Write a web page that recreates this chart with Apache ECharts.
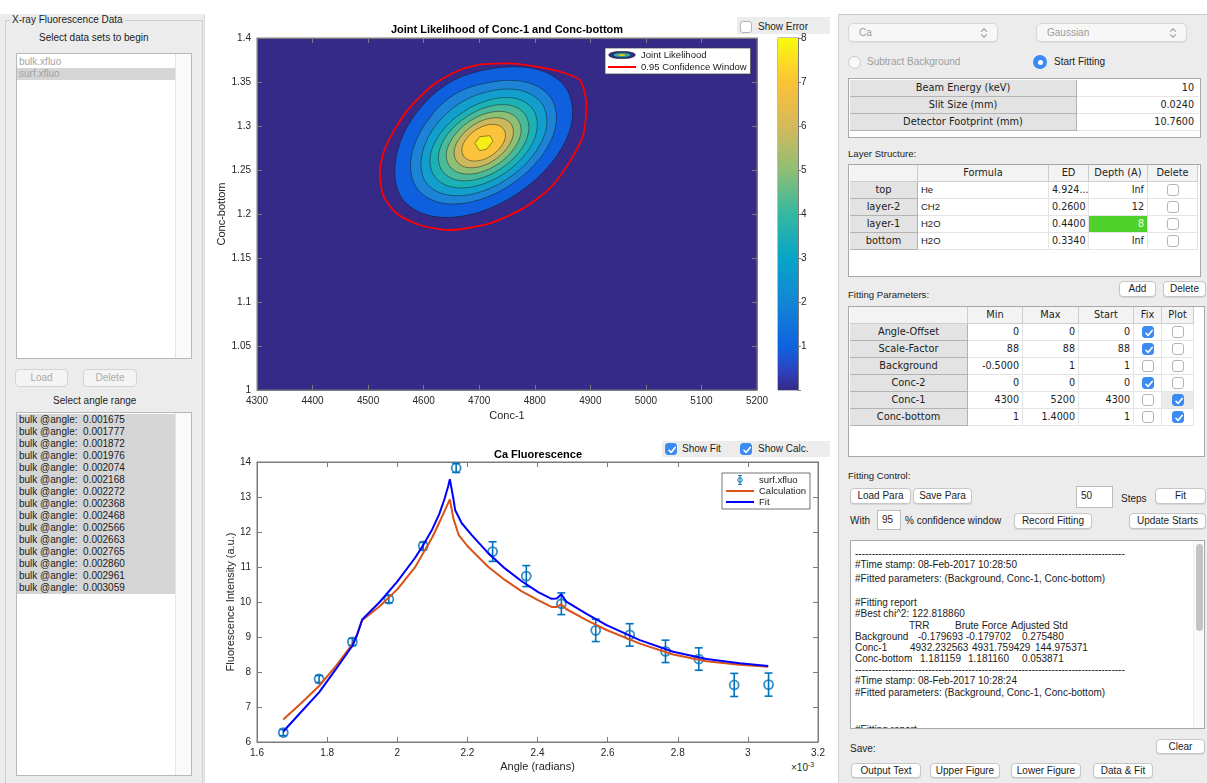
<!DOCTYPE html>
<html><head><meta charset="utf-8"><title>X-ray Fluorescence Fitting</title>
<script src="https://cdn.jsdelivr.net/npm/echarts@6.0.0/dist/echarts.min.js"></script>
<style>
html,body{margin:0;padding:0}
body{width:1207px;height:783px;overflow:hidden;background:#fff;position:relative;font-family:"Liberation Sans",Arial,Helvetica,sans-serif;font-size:10px;color:#1c1c1c}
#ui{position:absolute;left:0;top:0;width:1207px;height:783px}
#ui div{position:absolute;box-sizing:border-box;white-space:nowrap}
#chart{position:absolute;left:0;top:0;width:1207px;height:783px}
.panel{background:#ececec}
.t{font-size:10px;line-height:12px;color:#1c1c1c}
.btn{background:#fff;border:1px solid #c6c6c6;border-radius:4px;text-align:center;font-size:10px;color:#1c1c1c;box-shadow:0 1px 1px rgba(0,0,0,.10)}
.btn.dis{background:#f4f4f4;color:#ababab;box-shadow:none;border-color:#d4d4d4}
.cb{width:12px;height:12px;border:1px solid #b5b5b5;border-radius:3px;background:#fff}
.cb.on{background:#3b8bf3;border-color:#3b8bf3}
.cb svg{position:absolute;left:0;top:0}
.tbl{background:#fff;border:1px solid #a8a8a8}
.cell{height:17px;line-height:16px;font-family:"DejaVu Sans",sans-serif;font-size:9.6px;color:#1c1c1c;padding:0 3px;overflow:hidden}
.rh{background:#e3e3e3;border-right:1px solid #b3b3b3;border-bottom:1px solid #b3b3b3;text-align:center;font-size:9.8px}
.hd{background:#f3f3f3;border-right:1px solid #cdcdcd;border-bottom:1px solid #cdcdcd;text-align:center;font-size:9.8px}
.dc{border-right:1px solid #e4e4e4;border-bottom:1px solid #e4e4e4;text-align:right}
.dl{border-right:1px solid #e4e4e4;border-bottom:1px solid #e4e4e4;text-align:left;font-family:"Liberation Sans",Arial,sans-serif;font-size:9.5px}
.inp{background:#fff;border:1px solid #bdbdbd;font-size:10px;line-height:18px;padding-left:4px}
.dd{background:#f7f7f7;border:1px solid #d6d6d6;border-radius:5px;color:#9b9b9b;font-size:10px;line-height:17px;padding-left:10px;box-shadow:0 1px 1px rgba(0,0,0,.06)}
</style></head>
<body>
<div id="ui"></div>
<div id="chart"></div>
<script>
// ---------------- DATA ----------------
// Upper figure: joint likelihood contours (Conc-1, Conc-bottom)
const likelihoodLevels = [0.8, 1.6, 2.4, 3.2, 4.0, 4.8, 5.6, 6.4, 7.2];
const contour1 = [[4856,1.3432],[4867,1.3060],[4835,1.2622],[4769,1.2233],[4687,1.1999],[4611,1.1982],[4560,1.2188],[4549,1.2580],[4577,1.3060],[4642,1.3475],[4724,1.3652],[4806,1.3640]];
const contour2 = [[4829,1.3320],[4838,1.3015],[4812,1.2656],[4758,1.2337],[4691,1.2145],[4628,1.2131],[4587,1.2300],[4577,1.2620],[4601,1.3005],[4652,1.3345],[4722,1.3500],[4788,1.3492]];
const contour3 = [[4813,1.3252],[4821,1.2988],[4798,1.2676],[4751,1.2400],[4693,1.2234],[4639,1.2222],[4603,1.2368],[4596,1.2640],[4617,1.2965],[4663,1.3250],[4722,1.3400],[4777,1.3400]];
const contour4 = [[4797,1.3187],[4804,1.2962],[4785,1.2696],[4745,1.2461],[4695,1.2319],[4649,1.2309],[4619,1.2433],[4612,1.2659],[4631,1.2924],[4671,1.3159],[4721,1.3301],[4767,1.3311]];
const contour5 = [[4783,1.3127],[4789,1.2938],[4773,1.2714],[4739,1.2516],[4697,1.2396],[4658,1.2388],[4633,1.2493],[4627,1.2682],[4643,1.2906],[4677,1.3104],[4719,1.3224],[4758,1.3232]];
const contour6 = [[4770,1.3071],[4775,1.2915],[4761,1.2731],[4734,1.2568],[4699,1.2469],[4667,1.2462],[4646,1.2549],[4641,1.2705],[4655,1.2889],[4682,1.3052],[4717,1.3151],[4749,1.3158]];
const contour7 = [[4758,1.3019],[4761,1.2894],[4750,1.2747],[4728,1.2617],[4701,1.2538],[4675,1.2533],[4659,1.2602],[4655,1.2726],[4666,1.2873],[4688,1.3003],[4715,1.3082],[4741,1.3087]];
const contour8 = [[4744,1.2963],[4747,1.2871],[4739,1.2764],[4723,1.2669],[4703,1.2611],[4684,1.2607],[4672,1.2658],[4669,1.2749],[4677,1.2856],[4693,1.2951],[4713,1.3009],[4732,1.3013]];
const contour9 = [[4692,1.2803],[4701,1.2879],[4719,1.2890],[4725,1.2829],[4713,1.2735],[4701,1.2720]];
const confidence95 = [[4701,1.3701],[4755,1.3712],[4803,1.3674],[4845,1.3617],[4881,1.3523],[4893,1.3239],[4887,1.2898],[4863,1.2595],[4827,1.2292],[4779,1.2064],[4719,1.1894],[4647,1.1818],[4593,1.1875],[4551,1.2008],[4527,1.2216],[4521,1.2481],[4533,1.2784],[4569,1.3163],[4617,1.3466],[4665,1.3636],[4701,1.3701]];
const colorbarRange = [0, 8];

// Lower figure: Ca fluorescence
const angleRad = [0.001675,0.001777,0.001872,0.001976,0.002074,0.002168,0.002272,0.002368,0.002468,0.002566,0.002663,0.002765,0.002860,0.002961,0.003059];
const intensity = [6.27,7.80,8.86,10.08,11.60,13.83,11.44,10.74,9.95,9.19,9.06,8.59,8.37,7.63,7.64];
const intensityErr = [0.09,0.10,0.10,0.10,0.11,0.13,0.28,0.30,0.31,0.32,0.32,0.32,0.32,0.33,0.33];
const calcAngle = [0.001675,0.001725,0.001777,0.001825,0.001872,0.001885,0.001900,0.001950,0.002000,0.002050,0.002100,0.002125,0.002150,0.002160,0.002175,0.002200,0.002260,0.002307,0.002354,0.002400,0.002440,0.002455,0.002468,0.002482,0.002540,0.002597,0.002692,0.002787,0.002882,0.002977,0.003058];
const calcValue = [6.64,7.10,7.60,8.17,8.80,9.05,9.48,9.88,10.36,10.98,11.85,12.38,12.93,12.39,11.92,11.60,11.00,10.63,10.31,10.06,9.86,9.86,9.93,9.80,9.48,9.20,8.81,8.50,8.31,8.21,8.15];
const fitAngle = [0.001675,0.001725,0.001777,0.001825,0.001872,0.001885,0.001900,0.001950,0.002000,0.002050,0.002075,0.002100,0.002120,0.002135,0.002145,0.002150,0.002160,0.002165,0.002184,0.002212,0.002260,0.002307,0.002354,0.002402,0.002440,0.002455,0.002468,0.002482,0.002540,0.002597,0.002692,0.002787,0.002882,0.002977,0.003058];
const fitValue = [6.30,6.85,7.42,8.08,8.75,9.05,9.50,10.00,10.58,11.25,11.64,12.08,12.52,12.95,13.30,13.51,12.96,12.63,12.25,11.92,11.39,10.96,10.60,10.28,10.09,10.10,10.22,10.01,9.66,9.34,8.91,8.58,8.37,8.25,8.17];

// GUI texts
const dataSets = ['bulk.xfluo', 'surf.xfluo'];
const instrumentRows = [['Beam Energy (keV)','10'],['Slit Size (mm)','0.0240'],['Detector Footprint (mm)','10.7600']];
const layerRows = [['top','He','4.924...','Inf'],['layer-2','CH2','0.2600','12'],['layer-1','H2O','0.4400','8'],['bottom','H2O','0.3340','Inf']];
const paramRows = [['Angle-Offset','0','0','0',1,0],['Scale-Factor','88','88','88',1,0],['Background','-0.5000','1','1',0,0],['Conc-2','0','0','0',1,0],['Conc-1','4300','5200','4300',0,1],['Conc-bottom','1','1.4000','1',0,1]];

// ---------------- STYLE ----------------
const FONT = '"Liberation Sans", Arial, Helvetica, sans-serif';
const AX = '#7b7b7b', TXT = '#262626';
const bandColors = ['#0f60de','#1d83d6','#129fcd','#1cb2b5','#4bba99','#8ebf76','#ccb95d','#fbc33b','#f6ee18'];
const parulaStops = [[0,'#352a87'],[0.06,'#2c45c2'],[0.125,'#0d63e0'],[0.25,'#1386d5'],[0.375,'#07a5c8'],[0.5,'#35b8a1'],[0.625,'#8fbe74'],[0.75,'#d5b95b'],[0.875,'#fcc235'],[1,'#f9fb0e']];
const contours = [contour1,contour2,contour3,contour4,contour5,contour6,contour7,contour8,contour9];

// ---------------- GUI ----------------
const ui = document.getElementById('ui');
function box(cls,x,y,w,h,html,css,parent){const d=document.createElement('div');d.className=cls;let s=`left:${x}px;top:${y}px;`;if(w!=null)s+=`width:${w}px;`;if(h!=null)s+=`height:${h}px;`;d.style.cssText=s+(css||'');if(html!=null)d.innerHTML=html;(parent||ui).appendChild(d);return d;}
const CHECK='<svg width="12" height="12" viewBox="0 0 12 12"><path d="M3 6.3 L5.1 8.4 L9.2 3.4" fill="none" stroke="#fff" stroke-width="1.6" stroke-linecap="round" stroke-linejoin="round"/></svg>';
function cb(x,y,on,parent){return box('cb'+(on?' on':''),x,y,12,12,on?CHECK:'',null,parent);}
function btn(x,y,w,h,t,dis){return box('btn'+(dis?' dis':''),x,y,w,h,t,`line-height:${h-2}px`);}
const CHEV='<svg width="8" height="12" viewBox="0 0 8 12" style="position:absolute;right:9px;top:3px"><path d="M1.2 4.6 L4 1.8 L6.8 4.6 M1.2 7.4 L4 10.2 L6.8 7.4" fill="none" stroke="#9a9a9a" stroke-width="1.1"/></svg>';

// left panel
box('panel',0,14,205,769,'','border-right:1px solid #dadada');
box('',5,20,198,765,'','border:1px solid #cfcfcf');
box('t',10,14,null,12,'X-ray Fluorescence Data','background:#ececec;padding:0 2px');
box('t',39,32,null,12,'Select data sets to begin');
const lb1 = box('',16,53,176,306,'','background:#fff;border:1px solid #b8b8b8');
box('',158,0,16,304,'','background:#fafafa;border-left:1px solid #e6e6e6',lb1);
dataSets.forEach((s,i)=>box('t',0,2+12*i,158,12,s,'padding-left:2px;color:#a4a4a4;'+(i===1?'background:#d5d5d5;':''),lb1));
btn(15,369,53,18,'Load',true); btn(83,369,54,18,'Delete',true);
box('t',53,395,null,12,'Select angle range');
const lb2 = box('',16,412,176,364,'','background:#fff;border:1px solid #b8b8b8');
box('',158,0,16,362,'','background:#fafafa;border-left:1px solid #e6e6e6',lb2);
angleRad.forEach((a,i)=>box('t',0,1+12*i,158,12,'bulk @angle:&nbsp; '+a.toFixed(6),'padding-left:2px;background:#d5d5d5;line-height:12px',lb2));

// middle checkboxes
box('',737,17,93,17,'','background:#ececec');
cb(740,21,false); box('t',758,21,null,12,'Show Error');
box('',662,441,168,16,'','background:#ececec');
cb(665,443,true); box('t',682,443,null,12,'Show Fit');
cb(740,443,true); box('t',758,443,null,12,'Show Calc.');
box('t',791,762,null,12,'&times;10<span style="font-size:7px;position:relative;top:-4px">-3</span>','color:#262626');

// right panel
box('panel',838,14,369,769,'','border-top:1px solid #c8c8c8;border-left:1px solid #d2d2d2');
box('dd',848,23,150,19,'Ca'+CHEV);
box('dd',1036,23,151,19,'Gaussian'+CHEV);
box('',848,56,13,13,'','border:1px solid #cacaca;border-radius:50%;background:#f8f8f8');
box('t',867,56,null,12,'Subtract Background','color:#9e9e9e');
const rad = box('',1033,55,14,14,'','border-radius:50%;background:#3b8bf3');
box('',4.5,4.5,5,5,'','border-radius:50%;background:#fff',rad);
box('t',1054,56,null,12,'Start Fitting');

box('tbl',848,78,353,60);
instrumentRows.forEach((r,i)=>{const y=80+17*i;box('cell rh',850,y,227,17,r[0]);box('cell dc',1077,y,122,17,r[1],'border-right:none;padding-right:5px');});

box('t',848,148,null,12,'Layer Structure:','font-size:9.6px');
box('tbl',848,164,353,113);
[[850,68,''],[918,131,'Formula'],[1049,40,'ED'],[1089,59,'Depth (A)'],[1148,50,'Delete']].forEach(c=>box('cell hd',c[0],165,c[1],17,c[2]));
layerRows.forEach((r,i)=>{const y=182+17*i;
  box('cell rh',850,y,68,17,r[0]);
  box('cell dl',918,y,131,17,r[1]);
  box('cell dc',1049,y,40,17,r[2]);
  box('cell dc',1089,y,59,17,r[3], i===2?'background:#4fd12c;color:#eaffe2':'');
  box('cell dc',1148,y,50,17,'');
  cb(1167,y+2,false);
});

btn(1119,281,37,16,'Add'); btn(1163,281,43,16,'Delete');
box('t',848,289,null,12,'Fitting Parameters:','font-size:9.6px');
box('tbl',848,306,357,151);
[[850,118,''],[968,55,'Min'],[1023,56,'Max'],[1079,55,'Start'],[1134,28,'Fix'],[1162,32,'Plot']].forEach(c=>box('cell hd',c[0],307,c[1],17,c[2]));
paramRows.forEach((r,i)=>{const y=324+17*i;
  box('cell rh',850,y,118,17,r[0]);
  box('cell dc',968,y,55,17,r[1]);
  box('cell dc',1023,y,56,17,r[2]);
  box('cell dc',1079,y,55,17,r[3]);
  box('cell dc',1134,y,28,17,'');
  box('cell dc',1162,y,32,17,'', i===4?'background:#ebebeb':'');
  cb(1142,y+2,!!r[4]); cb(1172,y+2,!!r[5]);
});

box('t',848,470,null,12,'Fitting Control:','font-size:9.6px');
btn(850,488,61,16,'Load Para'); btn(913,488,59,16,'Save Para');
box('inp',1076,486,37,22,'50');
box('t',1121,493,null,12,'Steps');
btn(1155,488,51,16,'Fit');
box('t',850,515,null,12,'With');
box('inp',877,510,24,20,'95','line-height:18px');
box('t',905,515,null,12,'% confidence window');
btn(1014,513,78,16,'Record Fitting'); btn(1129,513,77,16,'Update Starts');

const tb = box('',850,540,355,189,'','background:#fff;border:1px solid #a8a8a8;overflow:hidden');
box('',342,0,12,187,'','background:#fafafa;border-left:1px solid #ededed',tb);
box('',345,3,7,87,'','background:#c3c3c3;border-radius:4px',tb);
const DASH = '-'.repeat(81);
const logLines = [
  [554,[[855,DASH]]],
  [565,[[855,'#Time stamp: 08-Feb-2017 10:28:50']]],
  [579,[[855,'#Fitted parameters: (Background, Conc-1, Conc-bottom)']]],
  [603,[[855,'#Fitting report']]],
  [614,[[855,'#Best chi^2: 122.818860']]],
  [626,[[909,'TRR'],[955,'Brute Force'],[1011,'Adjusted Std']]],
  [637,[[855,'Background'],[918,'-0.179693'],[966,'-0.179702'],[1022,'0.275480']]],
  [648,[[855,'Conc-1'],[910,'4932.232563'],[972,'4931.759429'],[1035,'144.975371']]],
  [659,[[855,'Conc-bottom'],[920,'1.181159'],[968,'1.181160'],[1022,'0.053871']]],
  [670,[[855,DASH]]],
  [681,[[855,'#Time stamp: 08-Feb-2017 10:28:24']]],
  [693,[[855,'#Fitted parameters: (Background, Conc-1, Conc-bottom)']]],
  [730,[[855,'#Fitting report']]]
];
logLines.forEach(l=>l[1].forEach(s=>box('t',s[0]-851,l[0]-6-541,null,12,s[1],null,tb)));

box('t',850,743,null,12,'Save:');
btn(1156,739,49,15,'Clear');
btn(851,763,70,15,'Output Text'); btn(930,763,70,15,'Upper Figure'); btn(1011,763,70,15,'Lower Figure'); btn(1093,763,60,15,'Data &amp; Fit');

// ---------------- CHART ----------------
const svgUri = s => 'image://data:image/svg+xml;charset=utf-8,' + encodeURIComponent(s);
const likelihoodIcon = svgUri('<svg xmlns="http://www.w3.org/2000/svg" width="90" height="27" viewBox="0 0 30 9"><ellipse cx="15" cy="4.5" rx="14.3" ry="4.1" fill="#352a87" stroke="#111" stroke-width="0.5"/><ellipse cx="15" cy="4.5" rx="9.5" ry="2.6" fill="#2ab3ae" stroke="#111" stroke-width="0.4"/><ellipse cx="15" cy="4.5" rx="4.5" ry="1.2" fill="#f7e51d" stroke="#111" stroke-width="0.3"/></svg>');
const errIcon = svgUri('<svg xmlns="http://www.w3.org/2000/svg" width="30" height="40" viewBox="0 0 12 16"><g stroke="#0072bd" stroke-width="1.6" fill="none"><line x1="6" y1="1" x2="6" y2="15"/><line x1="3" y1="1" x2="9" y2="1"/><line x1="3" y1="15" x2="9" y2="15"/><circle cx="6" cy="8" r="3.6"/></g></svg>');
const lineIcon = 'path://M0,0 L28,0 L28,2 L0,2 Z';

function valAxis(gridIndex, position, min, max, interval, showLabel, extra){
  return Object.assign({
    type:'value', gridIndex, position, min, max, interval,
    axisLine:{show:true,onZero:false,lineStyle:{color:AX,width:1}},
    axisTick:{show:true,inside:true,length:5,lineStyle:{color:AX,width:1}},
    axisLabel:{show:showLabel,color:TXT,fontSize:10,fontFamily:FONT,margin:6,formatter:v=>String(v)},
    splitLine:{show:false},
    nameTextStyle:{fontSize:11,color:TXT,fontFamily:FONT}
  }, extra||{});
}
const angleFmt = v => String(+(v*1000).toFixed(2));

const chart = echarts.init(document.getElementById('chart'), null, {renderer:'canvas', width:1207, height:783});
chart.setOption({
  animation:false,
  textStyle:{fontFamily:FONT},
  grid:[
    {left:257,top:38,width:500,height:352,show:true,backgroundColor:'#352a87',borderColor:AX,borderWidth:1,outerBoundsMode:'none',containLabel:false},
    {left:778,top:38,width:20,height:352,show:true,backgroundColor:'transparent',borderColor:AX,borderWidth:1,outerBoundsMode:'none',containLabel:false},
    {left:257,top:462,width:561,height:280,show:true,backgroundColor:'#fff',borderColor:AX,borderWidth:1,outerBoundsMode:'none',containLabel:false}
  ],
  xAxis:[
    valAxis(0,'bottom',4300,5200,100,true,{name:'Conc-1',nameLocation:'middle',nameGap:20}),
    valAxis(0,'top',4300,5200,100,false),
    {type:'category',gridIndex:1,data:['likelihood'],show:false},
    valAxis(2,'bottom',0.0016,0.0032,0.0002,true,{name:'Angle (radians)',nameLocation:'middle',nameGap:19,axisLabel:{color:TXT,fontSize:10,fontFamily:FONT,margin:6,formatter:angleFmt}}),
    valAxis(2,'top',0.0016,0.0032,0.0002,false)
  ],
  yAxis:[
    valAxis(0,'left',1,1.4,0.05,true,{name:'Conc-bottom',nameLocation:'middle',nameGap:27,nameRotate:90}),
    valAxis(0,'right',1,1.4,0.05,false),
    valAxis(1,'right',colorbarRange[0],colorbarRange[1],1,true,{axisTick:{show:true,inside:false,length:3,lineStyle:{color:AX}},axisLabel:{color:TXT,fontSize:10,fontFamily:FONT,margin:3,formatter:v=>v===0?'':String(v)}}),
    valAxis(2,'left',6,14,1,true,{name:'Fluorescence Intensity (a.u.)',nameLocation:'middle',nameGap:20,nameRotate:90}),
    valAxis(2,'right',6,14,1,false)
  ],
  legend:[
    {orient:'vertical',left:605,top:48,padding:[2,4,2,3],itemGap:2,itemWidth:28,itemHeight:9,
     backgroundColor:'#fff',borderColor:'#3a3a3a',borderWidth:0.7,selectedMode:false,
     textStyle:{fontSize:9.5,color:'#1a1a1a',fontFamily:FONT},
     data:[{name:'Joint Likelihood',icon:likelihoodIcon},{name:'0.95 Confidence Window',icon:lineIcon}]},
    {orient:'vertical',left:722,top:473,padding:[2,4,2,4],itemGap:1,itemWidth:28,itemHeight:10,
     backgroundColor:'#fff',borderColor:'#3a3a3a',borderWidth:0.7,selectedMode:false,
     textStyle:{fontSize:9.5,color:'#1a1a1a',fontFamily:FONT},
     data:[{name:'surf.xfluo',icon:errIcon},{name:'Calculation',icon:lineIcon},{name:'Fit',icon:lineIcon}]}
  ],
  graphic:[
    {type:'text',x:507,y:30,style:{text:'Joint Likelihood of Conc-1 and Conc-bottom',font:'bold 11px '+FONT,fill:'#000',textAlign:'center',textVerticalAlign:'middle',align:'center',verticalAlign:'middle'}},
    {type:'text',x:538,y:455,style:{text:'Ca Fluorescence',font:'bold 11px '+FONT,fill:'#000',textAlign:'center',textVerticalAlign:'middle',align:'center',verticalAlign:'middle'}}
  ],
  series:[
    {type:'custom',name:'Joint Likelihood',xAxisIndex:0,yAxisIndex:0,silent:true,z:2,
     itemStyle:{color:'#2ab3ae'},
     data:contours.map((r,i)=>[r[0][0],r[0][1],likelihoodLevels[i]]),
     renderItem:(params,api)=>{
       const i=params.dataIndex, ring=contours[i];
       const pts=ring.map(p=>api.coord(p));
       return {type:'polygon',shape:{points:pts,smooth:i===contours.length-1?0:0.35},
               style:{fill:bandColors[i],stroke:'rgba(15,15,15,0.75)',lineWidth:0.6}};
     }},
    {type:'line',name:'0.95 Confidence Window',xAxisIndex:0,yAxisIndex:0,silent:true,z:3,
     data:confidence95,symbol:'none',showSymbol:false,smooth:0.25,
     lineStyle:{color:'#ff0000',width:1.8},itemStyle:{color:'#ff0000'}},
    {type:'bar',xAxisIndex:2,yAxisIndex:2,silent:true,barWidth:'100%',
     data:[colorbarRange[1]],
     itemStyle:{color:new echarts.graphic.LinearGradient(0,1,0,0,parulaStops.map(s=>({offset:s[0],color:s[1]})))}},
    {type:'custom',name:'surf.xfluo',xAxisIndex:3,yAxisIndex:3,silent:true,z:3,
     itemStyle:{color:'#0072bd'},
     encode:{x:0,y:[1,2]},
     data:angleRad.map((a,i)=>[a,intensity[i]-intensityErr[i],intensity[i]+intensityErr[i]]),
     renderItem:(params,api)=>{
       const x=api.value(0), lo=api.coord([x,api.value(1)]), hi=api.coord([x,api.value(2)]);
       const w=4, st={stroke:'#0072bd',lineWidth:1.6};
       return {type:'group',children:[
         {type:'line',shape:{x1:lo[0],y1:lo[1],x2:hi[0],y2:hi[1]},style:st},
         {type:'line',shape:{x1:lo[0]-w,y1:lo[1],x2:lo[0]+w,y2:lo[1]},style:st},
         {type:'line',shape:{x1:hi[0]-w,y1:hi[1],x2:hi[0]+w,y2:hi[1]},style:st}
       ]};
     }},
    {type:'scatter',name:'surf.xfluo',xAxisIndex:3,yAxisIndex:3,silent:true,z:3,
     data:angleRad.map((a,i)=>[a,intensity[i]]),symbol:'circle',symbolSize:9,
     itemStyle:{color:'rgba(0,0,0,0)',borderColor:'#0072bd',borderWidth:1.8}},
    {type:'line',name:'Calculation',xAxisIndex:3,yAxisIndex:3,silent:true,z:4,
     data:calcAngle.map((a,i)=>[a,calcValue[i]]),symbol:'none',showSymbol:false,
     lineStyle:{color:'#d95319',width:2},itemStyle:{color:'#d95319'}},
    {type:'line',name:'Fit',xAxisIndex:3,yAxisIndex:3,silent:true,z:5,
     data:fitAngle.map((a,i)=>[a,fitValue[i]]),symbol:'none',showSymbol:false,
     lineStyle:{color:'#0000ff',width:2},itemStyle:{color:'#0000ff'}}
  ]
});
</script>
</body></html>
